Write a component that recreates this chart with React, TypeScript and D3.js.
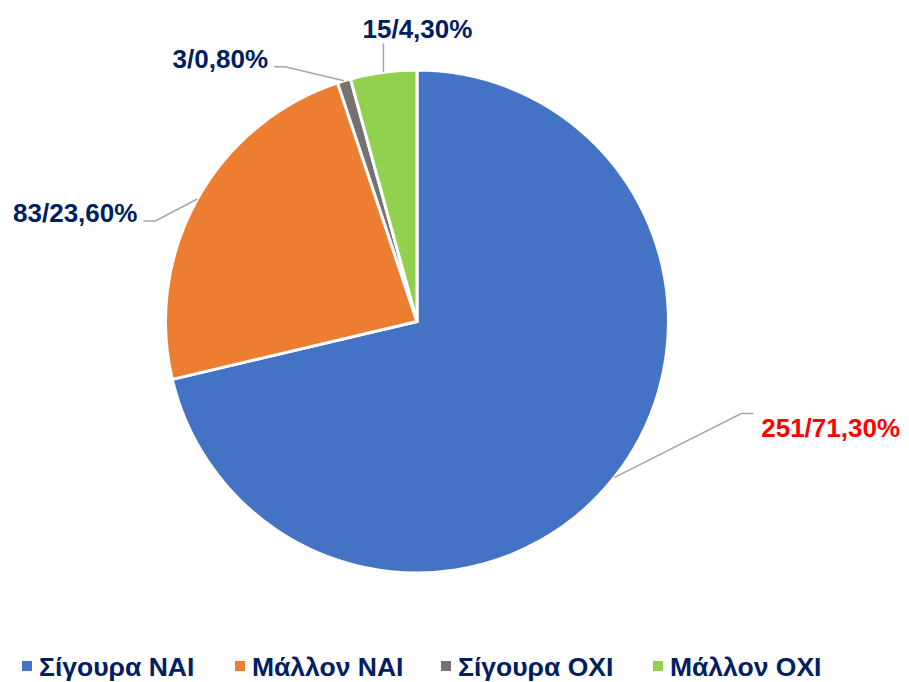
import React from "react";
import * as d3 from "d3";

const categories = ["Σίγουρα ΝΑΙ", "Μάλλον ΝΑΙ", "Σίγουρα ΟΧΙ", "Μάλλον ΟΧΙ"];
const counts = [251, 83, 3, 15];
const percentLabels = ["71,30%", "23,60%", "0,80%", "4,30%"];
const colors = ["#4472C4", "#ED7D31", "#767171", "#92D050"];
const labelColors = ["#FF0000", "#002060", "#002060", "#002060"];

// layout: elbow offset from slice edge, horizontal tail, text anchor
const leaderLayout = [
  { dx: 127, dy: -64, tail: 12, tx: 8, ty: 23, anchor: "start" },
  { dx: -42, dy: 22, tail: -12, tx: -6, ty: 1, anchor: "end" },
  { dx: -59, dy: -14, tail: -11, tx: -6, ty: 1, anchor: "end" },
  { dx: 0, dy: -29, tail: 0, tx: 34, ty: -5, anchor: "middle" },
];
const legendX = [22, 235, 441, 653];

export default function App() {
  const width = 909;
  const height = 682;
  const cx = 417;
  const cy = 321.5;
  const r = 251.5;
  const pie = d3.pie<number>().sort(null).value((d) => d)(counts);
  const arc = d3.arc<d3.PieArcDatum<number>>().innerRadius(0).outerRadius(r);
  const font = "'Liberation Sans', Arial, sans-serif";

  return (
    <svg
      width={width}
      height={height}
      style={{ position: "absolute", left: 0, top: 0, background: "#fff" }}
      fontFamily={font}
    >
      <g transform={`translate(${cx},${cy})`}>
        {pie.map((p, i) => (
          <path key={i} d={arc(p) || ""} fill={colors[i]} stroke="#fff" strokeWidth={3} strokeLinejoin="round" />
        ))}
        {pie.map((p, i) => {
          const mid = (p.startAngle + p.endAngle) / 2;
          const ex = r * Math.sin(mid);
          const ey = -r * Math.cos(mid);
          const L = leaderLayout[i];
          const bx = ex + L.dx;
          const by = ey + L.dy;
          const tx = bx + L.tail;
          return (
            <g key={"l" + i}>
              <polyline
                points={`${ex},${ey} ${bx},${by} ${tx},${by}`}
                fill="none"
                stroke="#A6A6A6"
                strokeWidth={1.5}
              />
              <text
                x={tx + L.tx}
                y={by + L.ty}
                textAnchor={L.anchor as any}
                fontSize={26}
                fontWeight="bold"
                fill={labelColors[i]}
              >
                {`${counts[i]}/${percentLabels[i]}`}
              </text>
            </g>
          );
        })}
      </g>
      <g>
        {categories.map((c, i) => (
          <g key={c} transform={`translate(${legendX[i]},0)`}>
            <rect x={0} y={661} width={10} height={10} fill={colors[i]} />
            <text x={17} y={675.5} fontSize={26.5} fontWeight="bold" fill="#002060">
              {c}
            </text>
          </g>
        ))}
      </g>
    </svg>
  );
}
